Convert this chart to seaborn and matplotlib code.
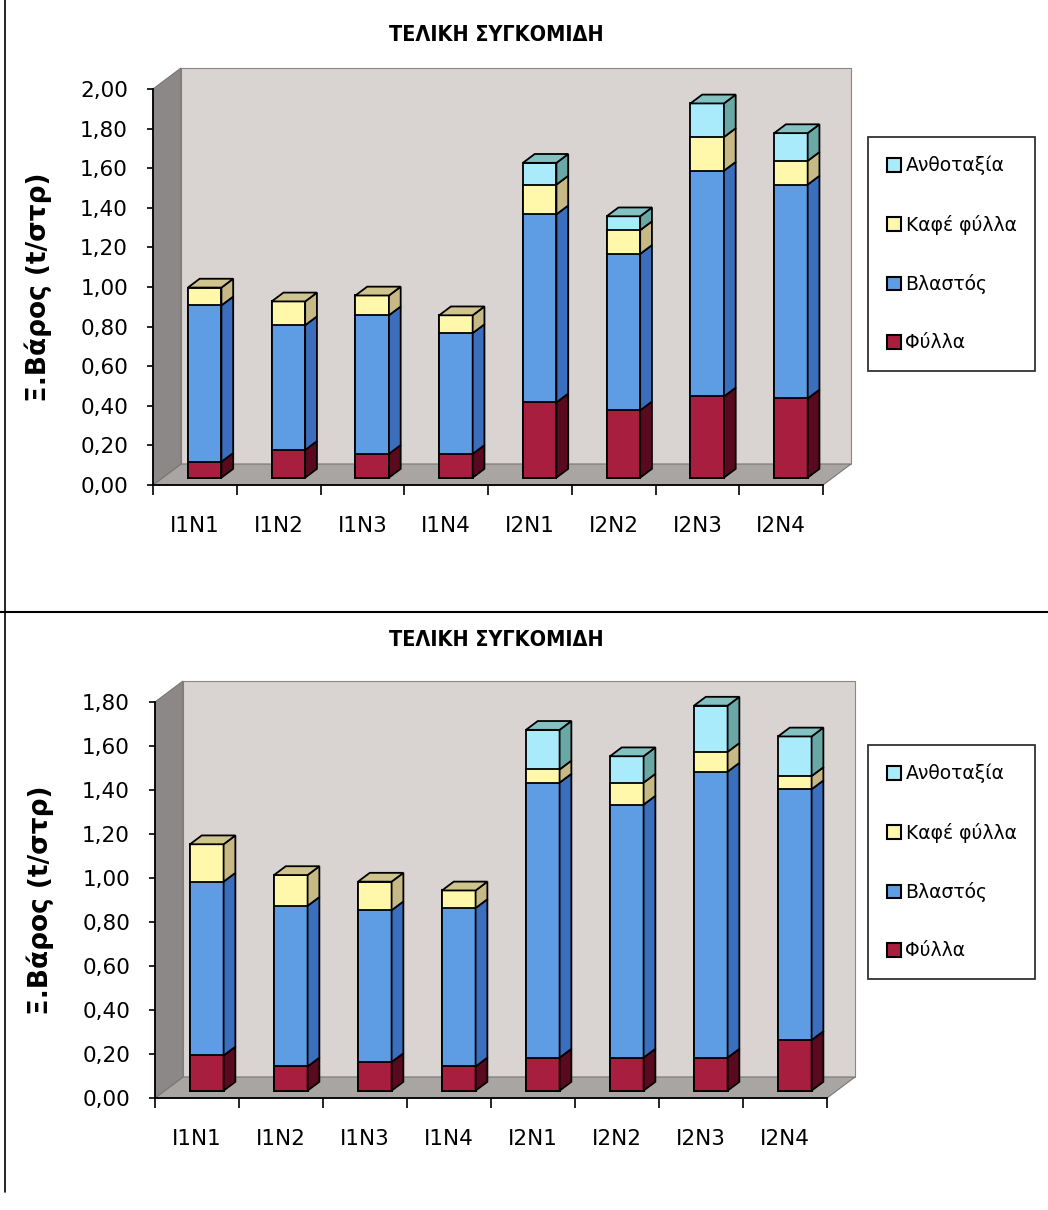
import numpy as np
import matplotlib
matplotlib.use("Agg")
import matplotlib.pyplot as plt
from matplotlib.patches import Polygon, Patch
from matplotlib.lines import Line2D
import seaborn as sns

# ---------------- data ----------------
categories = ["I1N1", "I1N2", "I1N3", "I1N4", "I2N1", "I2N2", "I2N3", "I2N4"]
series_names = ["Φύλλα", "Βλαστός", "Καφέ φύλλα", "Ανθοταξία"]

# upper chart (t/στρ)
leaves_top = [0.08, 0.14, 0.12, 0.12, 0.38, 0.34, 0.41, 0.40]
stem_top = [0.79, 0.63, 0.70, 0.61, 0.95, 0.79, 1.14, 1.08]
brown_top = [0.09, 0.12, 0.10, 0.09, 0.15, 0.12, 0.17, 0.12]
flower_top = [0.00, 0.00, 0.00, 0.00, 0.11, 0.07, 0.17, 0.14]
yticks_top = [0.0, 0.2, 0.4, 0.6, 0.8, 1.0, 1.2, 1.4, 1.6, 1.8, 2.0]

# lower chart (t/στρ)
leaves_bot = [0.16, 0.11, 0.13, 0.11, 0.15, 0.15, 0.15, 0.23]
stem_bot = [0.79, 0.73, 0.69, 0.72, 1.25, 1.15, 1.30, 1.14]
brown_bot = [0.17, 0.14, 0.13, 0.08, 0.06, 0.10, 0.09, 0.06]
flower_bot = [0.00, 0.00, 0.00, 0.00, 0.18, 0.12, 0.21, 0.18]
yticks_bot = [0.0, 0.2, 0.4, 0.6, 0.8, 1.0, 1.2, 1.4, 1.6, 1.8]

title_text = "ΤΕΛΙΚΗ ΣΥΓΚΟΜΙΔΗ"
ylabel_text = "Ξ.Βάρος (t/στρ)"

# ---------------- style ----------------
front_colors = ["#A81E3E", "#5E9DE4", "#FFF7AA", "#A9EBFA"]
side_colors = ["#5A0A1E", "#3C6EBE", "#C6B985", "#6AA8A6"]
top_colors = ["#7A1430", "#4A82CC", "#D0C48E", "#84C2C2"]
WALL = "#D9D3D2"
FLOOR = "#A9A5A3"
SIDE_WALL = "#8C8888"

sns.set_theme(style="white")
plt.rcParams["font.family"] = ["DejaVu Sans"]
plt.rcParams.update({"text.color": "black", "axes.labelcolor": "black",
                     "xtick.color": "black", "ytick.color": "black"})

W, H = 1048, 1210
fig = plt.figure(figsize=(W / 100, H / 100), dpi=100)

BAR_W = 0.40        # width of bar front face (category units)
DEPTH_PX = (28, 21)  # depth of the 3D box in pixels (x, y)
BAR_FRONT = 0.35    # bar front plane, as a fraction of the depth
BAR_DEPTH = 0.42    # bar depth, as a fraction of the depth
EDGE_LW = 1.3


def px_to_data(ax, ymax):
    pos = ax.get_position()
    wpx = pos.width * W
    hpx = pos.height * H
    return len(categories) / wpx, ymax / hpx


def draw_panel(rect, layers, ymax, yticks):
    ax = fig.add_axes(rect)
    ax.set_facecolor("none")
    n = len(categories)
    ux, uy = px_to_data(ax, ymax)
    dxw, dyw = DEPTH_PX[0] * ux, DEPTH_PX[1] * uy
    fx, fy = BAR_FRONT * dxw, BAR_FRONT * dyw
    bdx, bdy = BAR_DEPTH * dxw, BAR_DEPTH * dyw
    x_lo, x_hi = -0.5, n - 0.5

    # walls and floor of the 3D box
    back = Polygon([(x_lo + dxw, dyw), (x_hi + dxw, dyw),
                    (x_hi + dxw, ymax + dyw), (x_lo + dxw, ymax + dyw)],
                   closed=True, facecolor=WALL, edgecolor="#8A8686",
                   lw=0.8, zorder=0.5, clip_on=False)
    floor = Polygon([(x_lo, 0), (x_hi, 0), (x_hi + dxw, dyw), (x_lo + dxw, dyw)],
                    closed=True, facecolor=FLOOR, edgecolor="#7A7676",
                    lw=0.8, zorder=0.6, clip_on=False)
    left = Polygon([(x_lo, 0), (x_lo, ymax), (x_lo + dxw, ymax + dyw), (x_lo + dxw, dyw)],
                   closed=True, facecolor=SIDE_WALL, edgecolor="#7A7676",
                   lw=0.8, zorder=0.6, clip_on=False)
    for p in (back, floor, left):
        ax.add_patch(p)

    # stacked fronts: cumulative totals drawn from the top layer down
    cum = np.cumsum(np.array(layers, dtype=float), axis=0)
    for k in reversed(range(len(layers))):
        n_before = len(ax.patches)
        sns.barplot(x=categories, y=cum[k], order=categories, color=front_colors[k],
                    saturation=1, width=BAR_W, edgecolor="black", linewidth=EDGE_LW,
                    errorbar=None, ax=ax)
        for p in ax.patches[n_before:]:
            p.set_x(p.get_x() + fx)
            p.set_y(fy)
            p.set_zorder(3 + (len(layers) - k) * 0.01)

    # side faces and top faces
    for i in range(n):
        x0 = i + fx - BAR_W / 2
        x1 = i + fx + BAR_W / 2
        prev = 0.0
        top_k = 0
        for k in range(len(layers)):
            val = layers[k][i]
            if val <= 0:
                continue
            top_k = k
            y0, y1 = fy + prev, fy + prev + val
            ax.add_patch(Polygon([(x1, y0), (x1 + bdx, y0 + bdy),
                                  (x1 + bdx, y1 + bdy), (x1, y1)],
                                 closed=True, facecolor=side_colors[k],
                                 edgecolor="black", lw=EDGE_LW, zorder=3.2,
                                 clip_on=False))
            prev += val
        T = fy + prev
        ax.add_patch(Polygon([(x0, T), (x0 + bdx, T + bdy), (x1 + bdx, T + bdy), (x1, T)],
                             closed=True, facecolor=top_colors[top_k],
                             edgecolor="black", lw=EDGE_LW, zorder=3.3, clip_on=False))

    ax.set_xlim(x_lo, x_hi)
    ax.set_ylim(0, ymax)
    for s in ("top", "right"):
        ax.spines[s].set_visible(False)
    for s in ("left", "bottom"):
        ax.spines[s].set_color("black")
        ax.spines[s].set_linewidth(1.3)
        ax.spines[s].set_zorder(5)

    ax.set_yticks(yticks)
    ax.set_yticklabels([f"{v:.2f}".replace(".", ",") for v in yticks], fontsize=15.5)
    ax.tick_params(axis="y", which="major", direction="out", length=4, width=1.2,
                   color="black", pad=14, left=True)
    ax.set_xticks(range(n))
    ax.set_xticklabels(categories, fontsize=15.5)
    ax.set_xticks(np.arange(n + 1) - 0.5, minor=True)
    ax.tick_params(axis="x", which="major", length=0, pad=22, bottom=True)
    ax.tick_params(axis="x", which="minor", direction="out", length=7, width=1.2,
                   color="black", bottom=True)
    ax.set_xlabel("")
    ax.set_ylabel(ylabel_text, fontsize=19, fontweight="bold", color="black")
    ax.yaxis.set_label_coords(-101 / (rect[2] * W), 0.5)
    ax.grid(False)
    return ax


def add_legend(top_px):
    handles = [Patch(facecolor=front_colors[k], edgecolor="black", lw=1.5)
               for k in reversed(range(4))]
    labels = list(reversed(series_names))
    leg = fig.legend(handles, labels, loc="upper left",
                     bbox_to_anchor=(868 / W, 1 - top_px / H),
                     bbox_transform=fig.transFigure, frameon=True, fancybox=False,
                     edgecolor="black", fontsize=13.5, handlelength=0.75,
                     handleheight=0.75, handletextpad=0.25, labelspacing=2.1,
                     borderpad=1.0, borderaxespad=0, labelcolor="black")
    leg.get_frame().set_linewidth(1.3)
    return leg


def fig_rect(left_px, right_px, top_px, bottom_px):
    return [left_px / W, 1 - bottom_px / H, (right_px - left_px) / W, (bottom_px - top_px) / H]


def add_title(y_px):
    fig.text(496 / W, 1 - y_px / H, title_text, ha="center", va="center",
             fontsize=15.5, fontweight="bold", fontstretch="condensed",
             family=["DejaVu Sans"], color="black")


# upper panel
draw_panel(fig_rect(153, 823, 89, 485),
           [leaves_top, stem_top, brown_top, flower_top], 2.0, yticks_top)
add_title(35)
add_legend(137)

# lower panel
draw_panel(fig_rect(155, 827, 702, 1098),
           [leaves_bot, stem_bot, brown_bot, flower_bot], 1.8, yticks_bot)
add_title(640)
add_legend(745)

# frame lines between the two charts
fig.add_artist(Line2D([0, 1], [1 - 612 / H] * 2, transform=fig.transFigure,
                      color="black", lw=1.5))
fig.add_artist(Line2D([5 / W, 5 / W], [1, 1 - 1192 / H], transform=fig.transFigure,
                      color="black", lw=1.2))

fig.savefig("out.png", dpi=100, facecolor="white")
